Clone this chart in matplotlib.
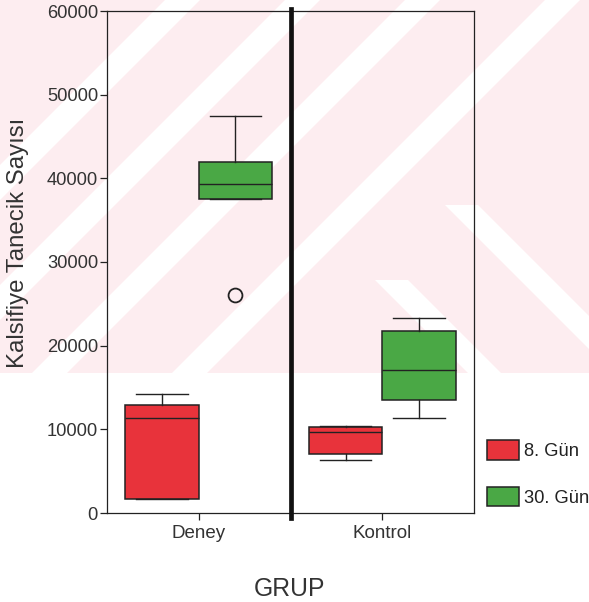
import matplotlib
matplotlib.use("Agg")
import matplotlib.pyplot as plt
import matplotlib.patches as mpatches
from matplotlib.patches import Polygon, Rectangle

plt.rcParams["font.family"] = ["Liberation Sans", "DejaVu Sans"]

# ---------------------------------------------------------------------------
# Data (box-plot summary per group and day)
# ---------------------------------------------------------------------------
groups = ["Deney", "Kontrol"]
days = ["8. Gün", "30. Gün"]

lo_8 = [1700, 6350]
q1_8 = [1700, 7050]
med_8 = [11300, 9700]
q3_8 = [12900, 10300]
hi_8 = [14200, 10450]
fliers_8 = [[], []]

lo_30 = [37500, 11300]
q1_30 = [37500, 13500]
med_30 = [39300, 17050]
q3_30 = [41900, 21800]
hi_30 = [47450, 23250]
fliers_30 = [[26000], []]

y_ticks = [0, 10000, 20000, 30000, 40000, 50000, 60000]

RED = "#E8333B"
GREEN = "#4AA845"
EDGE = "#222222"


def make_stats(lo, q1, med, q3, hi, fl):
    return [
        {"whislo": lo[i], "q1": q1[i], "med": med[i], "q3": q3[i],
         "whishi": hi[i], "fliers": fl[i]}
        for i in range(len(lo))
    ]


fig = plt.figure(figsize=(5.89, 6.02), dpi=100)
fig.patch.set_facecolor("white")

# faint scanned watermark behind the chart
bg = fig.add_axes([0, 0, 1, 1], zorder=-5)
bg.set_xlim(0, 589)
bg.set_ylim(602, 0)
bg.axis("off")
H = 373
clip = Rectangle((0, 0), 589, H, transform=bg.transData)
bg.add_patch(Rectangle((0, 0), 589, H, facecolor="#FDEDF0", edgecolor="none"))
for c1, c2 in [(165, 200), (285, 320), (405, 440), (545, 580)]:
    p = Polygon([(c1, 0), (c2, 0), (c2 - H, H), (c1 - H, H)],
                facecolor="white", edgecolor="none")
    bg.add_patch(p)
    p.set_clip_path(clip)
for d1, d2, y0 in [(95, 128, 280), (240, 273, 205)]:
    p = Polygon([(d1 + y0, y0), (d2 + y0, y0), (d2 + H, H), (d1 + H, H)],
                facecolor="white", edgecolor="none")
    bg.add_patch(p)
    p.set_clip_path(clip)

ax = fig.add_axes([107 / 589, 1 - 513 / 602, 367 / 589, 502 / 602])
ax.patch.set_alpha(0)

common = dict(
    widths=0.4,
    capwidths=0.28,
    patch_artist=True,
    boxprops=dict(edgecolor=EDGE, linewidth=1.1),
    medianprops=dict(color=EDGE, linewidth=1.0),
    whiskerprops=dict(color=EDGE, linewidth=1.0),
    capprops=dict(color=EDGE, linewidth=1.0),
    flierprops=dict(marker="o", markersize=10, markerfacecolor="none",
                    markeredgecolor=EDGE, markeredgewidth=1.3),
)

pos = range(1, len(groups) + 1)
b8 = ax.bxp(make_stats(lo_8, q1_8, med_8, q3_8, hi_8, fliers_8),
            positions=[p - 0.2 for p in pos], **common)
b30 = ax.bxp(make_stats(lo_30, q1_30, med_30, q3_30, hi_30, fliers_30),
             positions=[p + 0.2 for p in pos], **common)
for b in b8["boxes"]:
    b.set_facecolor(RED)
for b in b30["boxes"]:
    b.set_facecolor(GREEN)

# thick separator between the groups
ax.axvline(1.5, ymin=-0.01, ymax=1.004, color="#111111", linewidth=3.4,
           clip_on=False, zorder=5)

ax.set_xlim(0.5, 2.5)
ax.set_ylim(0, 60000)
ax.set_yticks(y_ticks)
ax.set_yticklabels([str(v) for v in y_ticks])
ax.set_xticks(list(pos))
ax.set_xticklabels(groups)

for s in ax.spines.values():
    s.set_color(EDGE)
    s.set_linewidth(0.9)
ax.tick_params(axis="y", length=5, width=0.9, pad=1.5, labelsize=13.2,
               colors=EDGE, labelcolor="#333333")
ax.tick_params(axis="x", length=5, width=0.9, pad=4, labelsize=13.5,
               colors=EDGE, labelcolor="#333333")

ax.set_ylabel("Kalsifiye Tanecik Sayısı", fontsize=17.3, color="#333333")
ax.yaxis.set_label_coords(-0.212, 0.538)
ax.set_xlabel("GRUP", fontsize=17.8, color="#333333")
ax.xaxis.set_label_coords(0.496, -0.128)

handles = [
    mpatches.Patch(facecolor=RED, edgecolor=EDGE, linewidth=1.1, label=days[0]),
    mpatches.Patch(facecolor=GREEN, edgecolor=EDGE, linewidth=1.1, label=days[1]),
]
fig.legend(
    handles=handles,
    loc="upper left",
    bbox_to_anchor=(487 / 589, 1 - 440 / 602),
    frameon=False,
    fontsize=13.2,
    handlelength=1.75,
    handleheight=1.28,
    handletextpad=0.28,
    labelspacing=1.45,
    borderpad=0,
    borderaxespad=0,
    labelcolor="#222222",
)

fig.savefig("out.png", dpi=100, facecolor="white")
